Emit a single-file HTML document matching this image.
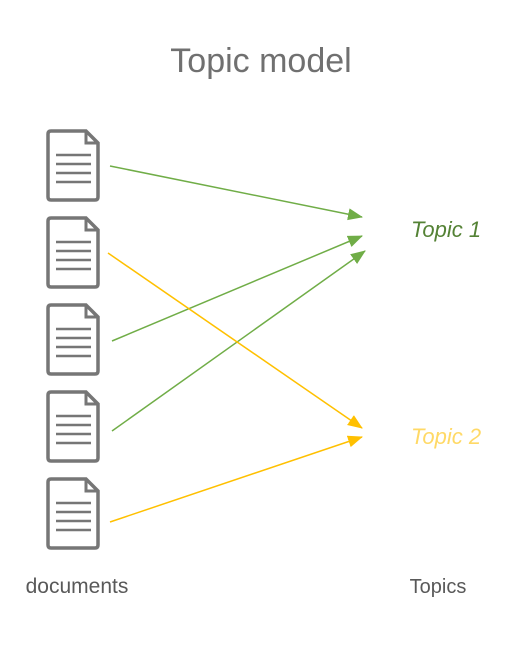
<!DOCTYPE html>
<html><head><style>body{margin:0;background:#fff;}</style></head><body>
<svg width="522" height="642" xmlns="http://www.w3.org/2000/svg" font-family="Liberation Sans, sans-serif">
<defs>
<marker id="g" markerWidth="16" markerHeight="14" refX="14" refY="6" orient="auto" markerUnits="userSpaceOnUse"><path d="M0,0 L15,6 L0,12 z" fill="#70ad47"/></marker>
<marker id="y" markerWidth="16" markerHeight="14" refX="14" refY="6" orient="auto" markerUnits="userSpaceOnUse"><path d="M0,0 L15,6 L0,12 z" fill="#ffc000"/></marker>
<g id="doc"><path d="M51,0 H86 L98,12 V66 Q98,69 95,69 H51 Q48,69 48,66 V3 Q48,0 51,0 Z" fill="none" stroke="#767676" stroke-width="3.5"/><path d="M86,1 V12 H97" fill="none" stroke="#767676" stroke-width="3"/><g stroke="#767676" stroke-width="2.5"><line x1="56" y1="24" x2="91" y2="24"/><line x1="56" y1="33" x2="91" y2="33"/><line x1="56" y1="42" x2="91" y2="42"/><line x1="56" y1="51" x2="91" y2="51"/></g></g>
</defs>
<text x="261" y="72" text-anchor="middle" font-size="34" fill="#707070">Topic model</text>
<use href="#doc" y="131"/><use href="#doc" y="218"/><use href="#doc" y="305"/><use href="#doc" y="392"/><use href="#doc" y="479"/>
<g stroke-width="1.5" fill="none">
<line x1="110" y1="166" x2="362" y2="217" stroke="#70ad47" marker-end="url(#g)"/>
<line x1="112" y1="341" x2="362" y2="236" stroke="#70ad47" marker-end="url(#g)"/>
<line x1="112" y1="431" x2="365" y2="251" stroke="#70ad47" marker-end="url(#g)"/>
<line x1="108" y1="253" x2="362" y2="428" stroke="#ffc000" marker-end="url(#y)"/>
<line x1="110" y1="522" x2="362" y2="437" stroke="#ffc000" marker-end="url(#y)"/>
</g>
<text x="411" y="237" font-size="22" font-style="italic" fill="#548235">Topic 1</text>
<text x="411" y="444" font-size="22" font-style="italic" fill="#ffd966">Topic 2</text>
<text x="77" y="593" text-anchor="middle" font-size="21" fill="#595959">documents</text>
<text x="438" y="593" text-anchor="middle" font-size="20" fill="#595959">Topics</text>
</svg>
</body></html>
